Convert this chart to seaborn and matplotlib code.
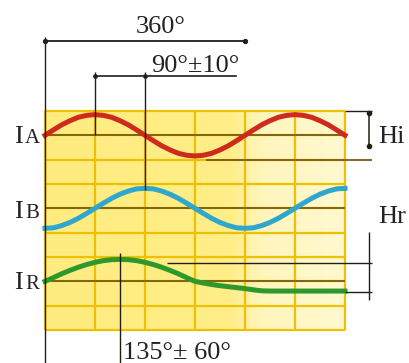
import matplotlib
matplotlib.use("Agg")
import matplotlib.pyplot as plt
import seaborn as sns
import pandas as pd
import numpy as np
from matplotlib.colors import LinearSegmentedColormap

# ---- data ----
angles = [0, 15, 30, 45, 60, 75, 90, 105, 120, 135, 150, 165, 180, 195, 210, 225,
          240, 255, 270, 285, 300, 315, 330, 345, 360, 375, 390, 405, 420, 435,
          450, 465, 480, 495, 510, 525, 540]
ia = [8.00, 8.22, 8.43, 8.60, 8.74, 8.82, 8.85, 8.82, 8.74, 8.60, 8.43, 8.22, 8.00,
      7.78, 7.57, 7.40, 7.26, 7.18, 7.15, 7.18, 7.26, 7.40, 7.57, 7.78, 8.00, 8.22,
      8.43, 8.60, 8.74, 8.82, 8.85, 8.82, 8.74, 8.60, 8.43, 8.22, 8.00]
ib = [4.18, 4.20, 4.29, 4.42, 4.59, 4.79, 5.00, 5.21, 5.41, 5.58, 5.71, 5.80, 5.82,
      5.80, 5.71, 5.58, 5.41, 5.21, 5.00, 4.79, 4.59, 4.42, 4.29, 4.20, 4.18, 4.20,
      4.29, 4.42, 4.59, 4.79, 5.00, 5.21, 5.41, 5.58, 5.71, 5.80, 5.82]
ir = [2.00, 2.15, 2.31, 2.45, 2.58, 2.69, 2.78, 2.85, 2.89, 2.90, 2.89, 2.85, 2.78,
      2.69, 2.58, 2.45, 2.31, 2.15, 2.00, 1.93, 1.87, 1.82, 1.78, 1.74, 1.70, 1.65,
      1.61, 1.60, 1.60, 1.60, 1.60, 1.60, 1.60, 1.60, 1.60, 1.60, 1.60]
signals = ["IA", "IB", "IR"]
signal_letters = ["A", "B", "R"]
grid_cols = [0, 90, 180, 270, 360, 450, 540]
grid_rows = [0, 1, 2, 3, 4, 5, 6, 7, 8, 9]
baselines = [8, 5, 2]

df = pd.DataFrame({
    "deg": angles * 3,
    "level": ia + ib + ir,
    "signal": [s for s in signals for _ in angles],
})

fig = plt.figure(figsize=(4.09, 3.63), dpi=100)
fig.patch.set_facecolor("white")
ax = fig.add_axes([0, 0, 1, 1])

# background
cmap = LinearSegmentedColormap.from_list(
    "bg", [(0, "#FFEC80"), (0.62, "#FFEE88"), (0.72, "#FFF5BC"), (1, "#FFF9D0")])
ax.imshow(np.linspace(0, 1, 200)[None, :], extent=[0, 540, 0, 9], cmap=cmap,
          aspect="auto", zorder=0, origin="lower")

# grid
ax.vlines(grid_cols, 0, 9, colors="#EFC000", lw=1.6, zorder=1)
ax.hlines(grid_rows, 0, 540, colors="#EFC000", lw=1.6, zorder=1)
ax.hlines(baselines, 0, 540, colors="#6E5414", lw=1.2, zorder=2)

# waves
pal = {"IA": "#CF2A1C", "IB": "#2FA6CC", "IR": "#2E982C"}
sns.lineplot(data=df, x="deg", y="level", hue="signal", palette=pal,
             linewidth=3.6, legend=False, ax=ax, sort=False, zorder=3)

ax.set_xlim(-81, 655.2)
ax.set_ylim(-1.356, 13.56)
ax.axis("off")

dark = "#221e16"
font = dict(family="Liberation Serif", color="#222222")

# 360 dimension
ax.plot([0, 360], [11.88, 11.88], color=dark, lw=1.3, zorder=4)
ax.plot([0, 360], [11.88, 11.88], "o", color=dark, ms=2.8, zorder=4)
ax.vlines(0, -1.356, 12.05, colors=dark, lw=1.0, zorder=4)
ax.text(209, 12.2, "360°", fontsize=19, ha="center", va="baseline", **font)

# 90 +- 10 dimension
ax.plot([90, 344], [10.42, 10.42], color=dark, lw=1.2, zorder=4)
ax.plot([90, 180], [10.42, 10.42], "o", color=dark, ms=2.4, zorder=4)
ax.vlines(90, 8, 10.6, colors=dark, lw=1.0, zorder=4)
ax.vlines(180, 5.75, 10.6, colors=dark, lw=1.0, zorder=4)
ax.text(270, 10.62, "90°±10°", fontsize=19, ha="center", va="baseline", **font)

# 135 +- 60
ax.vlines(135, -1.356, 3.16, colors=dark, lw=1.0, zorder=4)
ax.text(238, -1.2, "135°± 60°", fontsize=19, ha="center", va="baseline", **font)

# Hi dimension
ax.hlines(9, 540, 589, colors=dark, lw=1.0, zorder=4)
ax.hlines(7, 290, 589, colors="#7a5a12", lw=1.3, zorder=4)
ax.plot([583, 583], [8.93, 7.55], color=dark, lw=1.1, zorder=4)
ax.plot([583, 583], [8.93, 7.55], "o", color=dark, ms=3, zorder=4)
ax.text(599, 7.69, "Hi", fontsize=19, ha="left", va="baseline", **font)

# Hr dimension
ax.hlines(2.75, 220, 589, colors=dark, lw=1.0, zorder=4)
ax.hlines(1.56, 540, 589, colors=dark, lw=1.0, zorder=4)
ax.vlines(583, 1.23, 4.03, colors=dark, lw=1.0, zorder=4)
ax.text(599, 4.4, "Hr", fontsize=19, ha="left", va="baseline", **font)

# signal labels
label_base = [7.69, 4.6, 1.68]
for letter, yb in zip(signal_letters, label_base):
    ax.text(-48.6, yb, "I", fontsize=19, ha="center", va="baseline", **font)
    ax.text(-23.4, yb, letter, fontsize=15, ha="center", va="baseline", **font)

fig.savefig("out.png", dpi=100, facecolor="white")
